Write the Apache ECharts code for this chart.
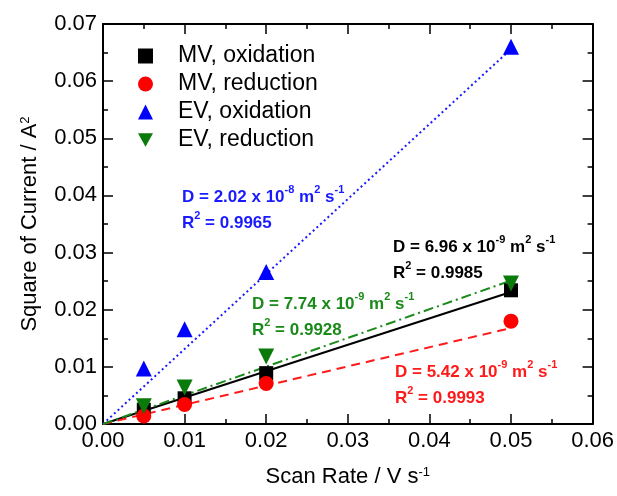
<!DOCTYPE html>
<html>
<head>
<meta charset="utf-8">
<title>Scan rate</title>
<script src="https://cdn.jsdelivr.net/npm/echarts@6/dist/echarts.min.js"></script>
<style>
  html, body { margin: 0; padding: 0; background: #fff; }
  #main { width: 617px; height: 496px; }
</style>
</head>
<body>
<div id="main"></div>
<script>
// scan rates (V/s)
var scanRates = [0.005, 0.01, 0.02, 0.05];
// square of current (A^2)
var mvOx = [0.0025, 0.0045, 0.0089, 0.0234];
var mvRed = [0.0014, 0.0034, 0.0071, 0.0180];
var evOx = [0.0097, 0.0166, 0.0266, 0.0660];
var evRed = [0.0031, 0.0064, 0.0118, 0.0246];
// linear fit end values at x = 0.05 (through origin)
var fitEnd = { mvOx: 0.0231, mvRed: 0.0168, evOx: 0.0656, evRed: 0.0251 };
var fitX = [0, 0.05];

var seriesNames = ['MV, oxidation', 'MV, reduction', 'EV, oxidation', 'EV, reduction'];

var FONT = 'Liberation Sans, Arial, sans-serif';
var DOWN_TRI = 'path://M0,0 L10,0 L5,9 Z';

function pairs(ys) {
  return scanRates.map(function (x, i) { return [x, ys[i]]; });
}
function fitLine(end) {
  return [[fitX[0], 0], [fitX[1], end]];
}

var chart = echarts.init(document.getElementById('main'));

// 注释文字
function note(left, top, color, d, exp, r2) {
  return {
    type: 'text',
    left: left,
    top: top,
    z: 100,
    style: {
      text: 'D = ' + d + ' x 10{sup|' + exp + '} m{sup|2} s{sup|-1}\nR{sup|2} = ' + r2,
      fill: color,
      font: 'bold 17px ' + FONT,
      lineHeight: 26,
      rich: {
        sup: { fontSize: 11, fontWeight: 'bold', fill: color, verticalAlign: 'top', fontFamily: FONT }
      }
    }
  };
}

var axisCommon = {
  type: 'value',
  axisLine: { show: true, onZero: false, lineStyle: { color: '#000', width: 2 } },
  axisTick: { show: true, inside: true, length: 10, lineStyle: { color: '#000', width: 1.5 } },
  minorTick: { show: true, splitNumber: 2, length: 5, lineStyle: { color: '#000', width: 1.5 } },
  splitLine: { show: false }
};

var supStyle = { sup: { fontSize: 13, verticalAlign: 'top', fontFamily: FONT, color: '#000' } };

var option = {
  animation: false,
  backgroundColor: '#fff',
  grid: { left: 103, right: 24, top: 24, bottom: 72 },
  legend: {
    orient: 'vertical',
    left: 133,
    top: 39,
    itemWidth: 15,
    itemHeight: 15,
    itemGap: 4,
    data: seriesNames,
    textStyle: { fontSize: 23, fontFamily: FONT, color: '#000', lineHeight: 24, padding: [0, 0, 0, 20] }
  },
  xAxis: [
    Object.assign({}, axisCommon, {
      min: 0, max: 0.06, interval: 0.01,
      position: 'bottom',
      name: 'Scan Rate / V s{sup|-1}',
      nameLocation: 'middle',
      nameGap: 42,
      nameTextStyle: { fontSize: 22, fontFamily: FONT, color: '#000', rich: supStyle },
      axisLabel: { fontSize: 22, fontFamily: FONT, color: '#000', margin: 6, formatter: function (v) { return v.toFixed(2); } }
    }),
    Object.assign({}, axisCommon, {
      min: 0, max: 0.06, interval: 0.01,
      position: 'top',
      axisLabel: { show: false }
    })
  ],
  yAxis: [
    Object.assign({}, axisCommon, {
      min: 0, max: 0.07, interval: 0.01,
      position: 'left',
      name: 'Square of Current / A{sup|2}',
      nameLocation: 'middle',
      nameGap: 62,
      nameTextStyle: { fontSize: 22, fontFamily: FONT, color: '#000', rich: supStyle },
      axisLabel: { fontSize: 22, fontFamily: FONT, color: '#000', margin: 6, formatter: function (v) { return v.toFixed(2); } }
    }),
    Object.assign({}, axisCommon, {
      min: 0, max: 0.07, interval: 0.01,
      position: 'right',
      axisLabel: { show: false }
    })
  ],
  graphic: [
    note(182, 184, '#1a1aff', '2.02', '-8', '0.9965'),
    note(393, 234, '#000000', '6.96', '-9', '0.9985'),
    note(252, 291, '#1a8a1a', '7.74', '-9', '0.9928'),
    note(395, 359, '#ff1a1a', '5.42', '-9', '0.9993')
  ],
  series: [
    // 拟合线
    { type: 'line', data: fitLine(fitEnd.mvOx), showSymbol: false, silent: true, z: 2,
      lineStyle: { color: '#000', width: 2, type: 'solid' } },
    { type: 'line', data: fitLine(fitEnd.mvRed), showSymbol: false, silent: true, z: 2,
      lineStyle: { color: '#ff1a1a', width: 2, type: [9, 6] } },
    { type: 'line', data: fitLine(fitEnd.evOx), showSymbol: false, silent: true, z: 2,
      lineStyle: { color: '#1a1aff', width: 2, type: [2, 3] } },
    { type: 'line', data: fitLine(fitEnd.evRed), showSymbol: false, silent: true, z: 2,
      lineStyle: { color: '#1a8a1a', width: 2, type: [10, 4, 2, 4] } },
    // 数据点
    { name: seriesNames[0], type: 'scatter', data: pairs(mvOx), symbol: 'rect', symbolSize: 14, z: 5,
      itemStyle: { color: '#000', opacity: 1 } },
    { name: seriesNames[1], type: 'scatter', data: pairs(mvRed), symbol: 'circle', symbolSize: 15, z: 5,
      itemStyle: { color: '#ff0000', opacity: 1 } },
    { name: seriesNames[2], type: 'scatter', data: pairs(evOx), symbol: 'triangle', symbolSize: 16, z: 5,
      itemStyle: { color: '#0000ff', opacity: 1 } },
    { name: seriesNames[3], type: 'scatter', data: pairs(evRed), symbol: DOWN_TRI, symbolSize: 16, z: 5,
      itemStyle: { color: '#0a7a0a', opacity: 1 } }
  ]
};

chart.setOption(option);
</script>
</body>
</html>
